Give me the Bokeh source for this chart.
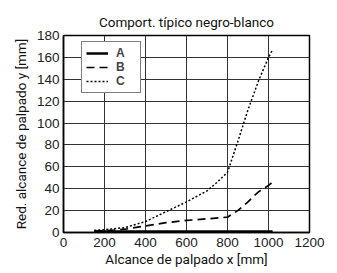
from bokeh.plotting import figure
from bokeh.models import Legend, LegendItem, Range1d, FixedTicker, Title
from bokeh.embed import file_html
from bokeh.resources import INLINE

title_text = "Comport. típico negro-blanco"
x_label = "Alcance de palpado x [mm]"
y_label = "Red. alcance de palpado y [mm]"

x_ticks = [0, 200, 400, 600, 800, 1000, 1200]
y_ticks = [0, 20, 40, 60, 80, 100, 120, 140, 160, 180]

a_x = [150, 300, 500, 700, 900, 1020]
a_y = [0.8, 0.8, 0.8, 0.8, 0.8, 0.8]

b_x = [150, 200, 300, 400, 500, 600, 700, 800, 850, 900, 950, 1000, 1020]
b_y = [1, 1.5, 3, 6, 9, 11, 12.5, 14, 20, 28, 37, 43, 46]

c_x = [150, 200, 300, 400, 500, 600, 700, 750, 800, 850, 900, 950, 1000, 1020]
c_y = [2, 2.5, 4.5, 10, 19, 28, 38, 46, 55, 83, 112, 138, 160, 167]

FW, FH = 246, 197
p = figure(frame_width=FW, frame_height=FH, output_backend="svg", toolbar_location=None,
           x_range=Range1d(0, 1200), y_range=Range1d(0, 180),
           min_border_left=63, min_border_right=20, min_border_top=35, min_border_bottom=33)

p.title = Title(text=title_text, align="center", text_font="Roboto",
                text_font_size="13.5px", text_font_style="normal", offset=0, standoff=8,
                vertical_align="top", text_color="#111111")

p.xaxis.ticker = FixedTicker(ticks=x_ticks)
p.yaxis.ticker = FixedTicker(ticks=y_ticks)
for ax in (p.xaxis[0], p.yaxis[0]):
    ax.major_tick_in = 0
    ax.major_tick_out = 0
    ax.minor_tick_in = 0
    ax.minor_tick_out = 0
    ax.major_label_text_font = "Liberation Sans"
    ax.major_label_text_font_size = "13.5px"
    ax.major_label_text_color = "#222222"
    ax.axis_line_color = "black"
    ax.axis_line_width = 1.5
    ax.axis_label_text_font = "Roboto"
    ax.axis_label_text_font_size = "13.5px"
    ax.axis_label_text_font_style = "normal"
    ax.axis_label_text_color = "#111111"
p.xaxis.axis_label = x_label
p.yaxis.axis_label = y_label
p.xaxis.major_label_standoff = 5
p.yaxis.major_label_standoff = 4
p.xaxis.axis_label_standoff = 1
p.yaxis.axis_label_standoff = 5

p.xgrid.grid_line_color = "#333333"
p.ygrid.grid_line_color = "#333333"
p.xgrid.grid_line_width = 1
p.ygrid.grid_line_width = 1
p.outline_line_color = "black"
p.outline_line_width = 1.5

ra = p.line(a_x, a_y, line_color="black", line_width=2.5)
rb = p.line(b_x, b_y, line_color="black", line_width=1.7, line_dash="8 5")
rc = p.line(c_x, c_y, line_color="black", line_width=1.5, line_dash="2 2")

legend = Legend(items=[LegendItem(label="A", renderers=[ra]),
                       LegendItem(label="B", renderers=[rb]),
                       LegendItem(label="C", renderers=[rc])],
                location=(18, 139), orientation="vertical",
                glyph_width=22, glyph_height=14, label_height=14, spacing=0,
                padding=4, margin=0, label_standoff=8,
                label_text_font="Liberation Sans", label_text_font_style="bold",
                label_text_font_size="12px",
                border_line_color="black", border_line_width=1,
                background_fill_color="white", background_fill_alpha=1)
p.add_layout(legend, "center")

open("out.html", "w").write(file_html(p, INLINE))
